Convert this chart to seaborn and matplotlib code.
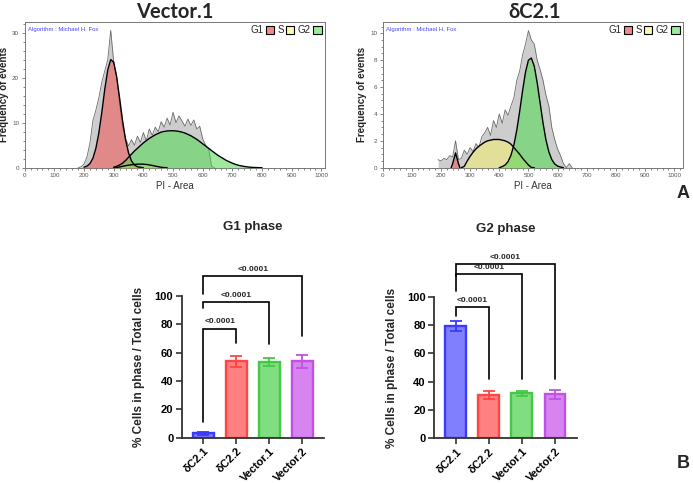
import numpy as np
import pandas as pd
import matplotlib
matplotlib.use("Agg")
import matplotlib.pyplot as plt
from matplotlib.patches import Patch
from matplotlib.ticker import MultipleLocator
import seaborn as sns

# ---- cell-cycle histograms (PI-Area step 10) ----
vec_gray_start = 180
vec_gray = [0, 0.2, 0.8, 2.4, 5.5, 10.5, 12.8, 15.5, 19, 21.5, 24, 30.5, 23.5, 20, 14, 9,
            6.5, 4.8, 6.2, 5.0, 7.0, 5.6, 7.8, 6.0, 8.6, 7.2, 9.0, 8.0, 10.2, 9.0, 11.0, 9.5,
            12.3, 10.0, 11.5, 10.4, 9.2, 10.8, 9.4, 10.6, 8.6, 9.2, 6.4, 5.0, 4.2, 0.3, 0]
vec_g1_start = 200
vec_g1 = [0.1, 0.35, 0.9, 2.1, 4.3, 7.7, 12.3, 17.4, 21.7, 24.0, 23.4, 20.2, 15.4, 10.4,
          6.2, 3.3, 1.5, 0.6, 0.2, 0.1, 0]
vec_s_start = 300
vec_s = [0, 0.05, 0.15, 0.3, 0.45, 0.55, 0.65, 0.72, 0.78, 0.8, 0.78, 0.72, 0.62, 0.5,
         0.36, 0.22, 0.1, 0.03, 0]
vec_g2_start = 300
vec_g2 = [0.1, 0.3, 0.6, 1.0, 1.6, 2.3, 3.0, 3.7, 4.3, 4.9, 5.5, 6.0, 6.5, 6.9, 7.3, 7.6,
          7.9, 8.05, 8.15, 8.2, 8.2, 8.15, 8.05, 7.9, 7.7, 7.4, 7.1, 6.7, 6.3, 5.8, 5.3, 4.8,
          4.3, 3.8, 3.3, 2.8, 2.4, 2.0, 1.6, 1.3, 1.0, 0.75, 0.55, 0.4, 0.28, 0.18, 0.11,
          0.06, 0.03, 0.01, 0]

dc_gray_start = 190
dc_gray = [0.6, 0.5, 0.7, 0.6, 0.9, 0.8, 2.0, 0.6, 0.7, 1.3, 1.0, 1.5, 1.2, 1.8, 1.5, 2.3,
           2.6, 3.0, 2.4, 3.5, 3.0, 4.0, 3.3, 4.3, 3.9, 4.6, 5.2, 6.5, 7.2, 8.4, 9.2, 10.2,
           9.5, 9.2, 8.0, 7.3, 6.5, 5.4, 4.6, 3.0, 2.1, 1.4, 0.9, 0.3, 0.0, 0.3, 0]
dc_g1_start = 235   # step 5
dc_g1 = [0, 0.3, 0.7, 1.1, 0.7, 0.3, 0]
dc_s_start = 270
dc_s = [0, 0.1, 0.5, 0.85, 1.15, 1.4, 1.6, 1.75, 1.9, 2.0, 2.05, 2.1, 2.1, 2.1, 2.05, 2.0,
        1.9, 1.75, 1.5, 1.25, 1.0, 0.7, 0.45, 0.2, 0.02, 0]
dc_g2_start = 400
dc_g2 = [0, 0.08, 0.2, 0.45, 0.92, 1.68, 2.79, 4.2, 5.74, 7.12, 8.0, 8.16, 7.55, 6.33, 4.82,
         3.33, 2.08, 1.18, 0.61, 0.28, 0.12, 0.05, 0]

# ---- bar charts ----
groups = ["δC2.1", "δC2.2", "Vector.1", "Vector.2"]
g1_mean = [3.0, 54.0, 53.5, 54.0]
g1_err = [1.3, 4.0, 3.0, 4.5]
g2_mean = [79.3, 30.5, 31.8, 31.0]
g2_err = [3.4, 3.0, 1.7, 3.3]
p_labels = ["<0.0001", "<0.0001", "<0.0001"]
g1_bracket_top = [77, 95.5, 114.3]
g1_left_foot = [11.3, 91.3, 101.2]
g1_right_foot = [67, 66, 72]
g2_bracket_top = [92.5, 115.8, 122.9]
g2_left_foot = [86.6, 104.2, 114.6]
g2_right_foot = [41.9, 41.9, 41.9]

bar_fill = ["#8080ff", "#ff8080", "#80dd80", "#d884f0"]
bar_edge = ["#3a3aff", "#ff4545", "#45c845", "#c150e6"]

sns.set_theme(style="white")
plt.rcParams["font.family"] = ["Liberation Sans", "DejaVu Sans"]

fig = plt.figure(figsize=(6.93, 4.83), dpi=100)


def histo(ax, gray, g1, s, g2, g1_step, xmax, ymax, ymaj, ymin):
    xs = lambda start, vals, step=10: start + step * np.arange(len(vals))
    gx = xs(gray[0], gray[1])
    ax.fill_between(gx, gray[1], color="#cdcdcd", lw=0, zorder=1)
    ax.plot(gx, gray[1], color="#6a6a6a", lw=0.6, zorder=2)
    for (start, vals, step), col in zip([(g1[0], g1[1], g1_step), (s[0], s[1], 10), (g2[0], g2[1], 10)],
                                        ["#f25252", "#f4ee6e", "#4fd84f"]):
        x = xs(start, vals, step)
        ax.fill_between(x, vals, color=col, alpha=0.55, lw=0, zorder=3)
        ax.plot(x, vals, color="black", lw=1.0, zorder=4)
    ax.set_xlim(0, xmax)
    ax.set_ylim(0, ymax)
    ax.xaxis.set_major_locator(MultipleLocator(100))
    ax.xaxis.set_minor_locator(MultipleLocator(20))
    ax.yaxis.set_major_locator(MultipleLocator(ymaj))
    ax.yaxis.set_minor_locator(MultipleLocator(ymin))
    ax.tick_params(which="both", direction="out", colors="#555555", labelsize=4.5,
                   bottom=True, left=True, length=2.5, width=0.5, pad=1.5)
    ax.tick_params(which="minor", length=1.5)
    for sp in ax.spines.values():
        sp.set_color("#777777")
        sp.set_linewidth(0.7)
    ax.set_xlabel("PI - Area", fontsize=7, color="#333333", labelpad=2)
    ax.set_ylabel("Frequency of events", fontsize=7, weight="bold", color="#222222", labelpad=2)
    ax.text(0.012, 0.965, "Algorithm : Michael H. Fox", transform=ax.transAxes, fontsize=4.3,
            color="#4646ff", va="top", ha="left")
    handles = [Patch(facecolor="#f28a8a", edgecolor="black", lw=0.8, label="G1"),
               Patch(facecolor="#fbf8b0", edgecolor="black", lw=0.8, label="S"),
               Patch(facecolor="#98ee98", edgecolor="black", lw=0.8, label="G2")]
    ax.legend(handles=handles, loc="upper right", ncol=3, markerfirst=False, frameon=False,
              fontsize=7, handlelength=0.85, handleheight=0.85, handletextpad=0.25,
              columnspacing=0.35, borderaxespad=0.25, borderpad=0.1)


ax1 = fig.add_axes([0.0356, 0.6528, 0.4333, 0.3022])
histo(ax1, (vec_gray_start, vec_gray), (vec_g1_start, vec_g1), (vec_s_start, vec_s),
      (vec_g2_start, vec_g2), 10, 1012, 32.4, 10, 2)
ax2 = fig.add_axes([0.5522, 0.6528, 0.4333, 0.3022])
histo(ax2, (dc_gray_start, dc_gray), (dc_g1_start, dc_g1), (dc_s_start, dc_s),
      (dc_g2_start, dc_g2), 5, 1030, 10.86, 2, 0.5)

fig.text(0.2525, 1 - 12 / 483, "Vector.1", ha="center", va="center", fontsize=14.5,
         weight="bold", family=["Lato", "DejaVu Sans"])
fig.text(0.772, 1 - 12 / 483, "δC2.1", ha="center", va="center", fontsize=14.5,
         weight="bold", family=["Lato", "DejaVu Sans"])
fig.text(683 / 693, 1 - 193 / 483, "A", ha="center", va="center", fontsize=13, weight="bold")
fig.text(683 / 693, 1 - 463 / 483, "B", ha="center", va="center", fontsize=13, weight="bold")


def bars(ax, means, errs, tops, lfeet, rfeet, title, title_y, ylab_x):
    df = pd.DataFrame({"group": groups, "value": means})
    sns.barplot(data=df, x="group", y="value", hue="group", palette=bar_fill, errorbar=None,
                width=0.63, linewidth=1.7, saturation=1, legend=False, ax=ax)
    for patch, ec in zip(ax.patches, bar_edge):
        patch.set_edgecolor(ec)
    for i, (m, e) in enumerate(zip(means, errs)):
        ax.errorbar(i, m, yerr=e, color=bar_edge[i], capsize=4, capthick=1.3, elinewidth=1.3,
                    zorder=5)
    for k, (t, lf, rf, lab) in enumerate(zip(tops, lfeet, rfeet, p_labels)):
        ax.plot([0, 0, k + 1, k + 1], [lf, t, t, rf], color="black", lw=1.2, clip_on=False,
                solid_joinstyle="miter")
        ax.text((k + 1) / 2, t + 2.2, lab, ha="center", va="bottom", fontsize=6, weight="bold")
    ax.set_xlim(-0.66, 3.66)
    ax.set_ylim(0, 125)
    ax.set_yticks([0, 20, 40, 60, 80, 100])
    sns.despine(ax=ax)
    ax.spines["left"].set_bounds(0, 100)
    for side in ["left", "bottom"]:
        ax.spines[side].set_color("#333333")
        ax.spines[side].set_linewidth(1.3)
    ax.tick_params(axis="both", direction="out", length=4, width=1.2, colors="#333333",
                   labelcolor="black", labelsize=8, bottom=True, left=True, pad=2)
    for lab in ax.get_yticklabels():
        lab.set_fontweight("bold")
    ax.set_xticks(range(len(groups)))
    ax.set_xticklabels(groups, rotation=45, ha="right", rotation_mode="anchor",
                       fontsize=8, weight="bold")
    ax.set_xlabel("")
    ax.set_ylabel("% Cells in phase / Total cells", fontsize=8.5, weight="bold")
    ax.yaxis.set_label_coords(ylab_x, 0.4)
    fig.text(ax.get_position().x0 + ax.get_position().width / 2, title_y, title,
             ha="center", va="center", fontsize=9.5, weight="bold")


ax3 = fig.add_axes([0.2622, 0.0938, 0.2053, 0.3667])
bars(ax3, g1_mean, g1_err, g1_bracket_top, g1_left_foot, g1_right_foot, "G1 phase",
     1 - 226.7 / 483, -0.258)
ax4 = fig.add_axes([0.6263, 0.0925, 0.2059, 0.3667])
bars(ax4, g2_mean, g2_err, g2_bracket_top, g2_left_foot, g2_right_foot, "G2 phase",
     1 - 229 / 483, -0.25)

fig.savefig("out.png", dpi=100)
